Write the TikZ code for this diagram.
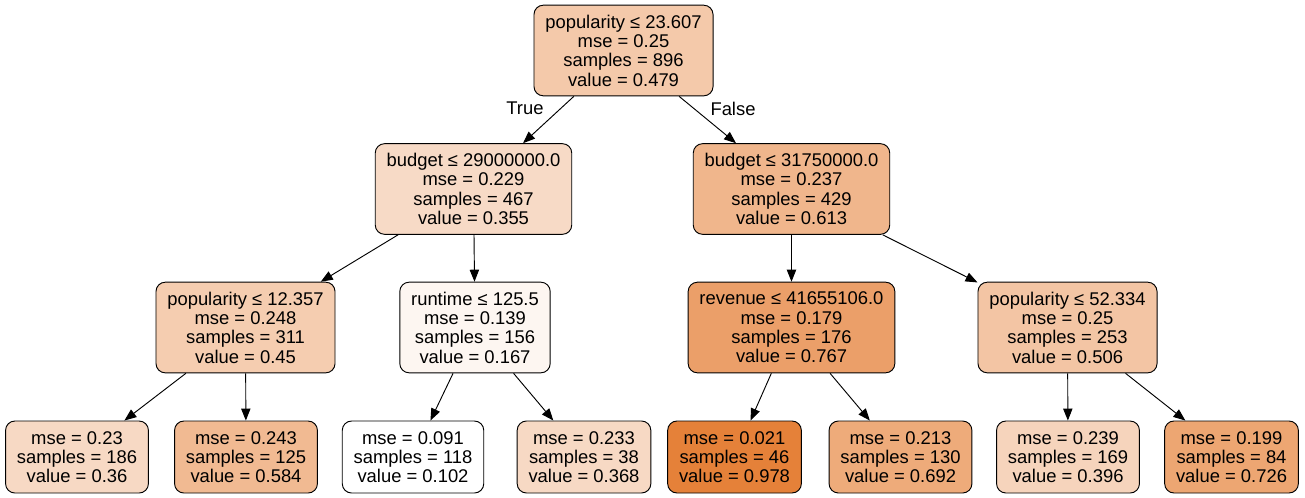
\documentclass[tikz,border=0pt]{standalone}
\usepackage{fontspec}
\setmainfont{Liberation Sans}
\usetikzlibrary{arrows.meta}
\definecolor{dtOrange}{RGB}{229,129,57}

\begin{document}
\begin{tikzpicture}[
  x=0.75pt, y=-0.75pt,
  font=\fontsize{13.8}{14.5}\selectfont,
  split/.style={draw, rounded corners=7pt, line width=0.7pt, align=center, inner xsep=8.5pt, minimum height=68pt},
  leaf/.style={split, minimum height=54pt},
  arr/.style={-{Triangle[length=9pt, width=7pt]}, line width=0.7pt},
]
\useasboundingbox (0,0) rectangle (1305,497);
% root
\node[split, fill=dtOrange!43!white] (root) at (623.5,50.5) {popularity ≤ 23.607\\mse = 0.25\\samples = 896\\value = 0.479};
% level 1
\node[split, fill=dtOrange!29!white] (budgetA) at (473.5,189) {budget ≤ 29000000.0\\mse = 0.229\\samples = 467\\value = 0.355};
\node[split, fill=dtOrange!58!white] (budgetB) at (791.5,189) {budget ≤ 31750000.0\\mse = 0.237\\samples = 429\\value = 0.613};
% level 2
\node[split, fill=dtOrange!40!white] (popA) at (245.5,327.5) {popularity ≤ 12.357\\mse = 0.248\\samples = 311\\value = 0.45};
\node[split, fill=dtOrange!7!white] (runtime) at (475,327.5) {runtime ≤ 125.5\\mse = 0.139\\samples = 156\\value = 0.167};
\node[split, fill=dtOrange!76!white] (revenue) at (791.5,327.5) {revenue ≤ 41655106.0\\mse = 0.179\\samples = 176\\value = 0.767};
\node[split, fill=dtOrange!46!white] (popB) at (1067.5,327.5) {popularity ≤ 52.334\\mse = 0.25\\samples = 253\\value = 0.506};
% leaves
\node[leaf, fill=dtOrange!30!white] (leafA) at (77,457) {mse = 0.23\\samples = 186\\value = 0.36};
\node[leaf, fill=dtOrange!55!white] (leafB) at (246,457) {mse = 0.243\\samples = 125\\value = 0.584};
\node[leaf, fill=white] (leafC) at (413,457) {mse = 0.091\\samples = 118\\value = 0.102};
\node[leaf, fill=dtOrange!30!white] (leafD) at (584,457) {mse = 0.233\\samples = 38\\value = 0.368};
\node[leaf, fill=dtOrange] (leafE) at (734.5,457) {mse = 0.021\\samples = 46\\value = 0.978};
\node[leaf, fill=dtOrange!67!white] (leafF) at (900.5,457) {mse = 0.213\\samples = 130\\value = 0.692};
\node[leaf, fill=dtOrange!34!white] (leafG) at (1068,457) {mse = 0.239\\samples = 169\\value = 0.396};
\node[leaf, fill=dtOrange!71!white] (leafH) at (1231.5,457) {mse = 0.199\\samples = 84\\value = 0.726};
% edges
\foreach \a/\b in {root/budgetA, root/budgetB, budgetA/popA, budgetA/runtime, budgetB/revenue, budgetB/popB,
  popA/leafA, popA/leafB, runtime/leafC, runtime/leafD, revenue/leafE, revenue/leafF, popB/leafG, popB/leafH}
  \draw[arr] (\a) -- (\b);
\node (lblTrue) at (525,108) {True};
\node (lblFalse) at (733,109) {False};
\end{tikzpicture}
\end{document}
